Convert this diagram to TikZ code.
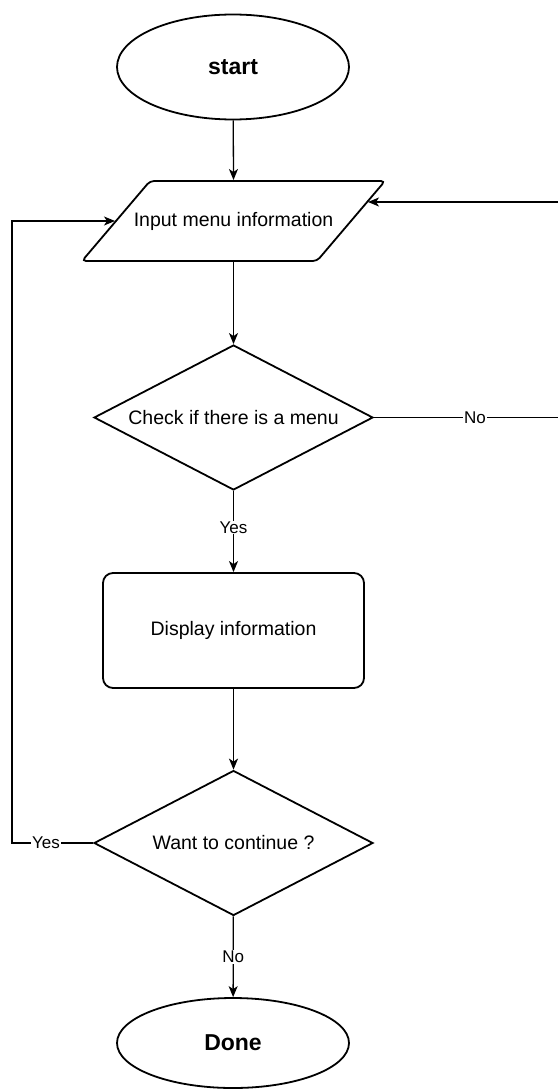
\documentclass[tikz,border=0pt]{standalone}
\usepackage{fontspec}
\setmainfont{Liberation Sans}
\usetikzlibrary{shapes.geometric,arrows.meta}

\begin{document}
\begin{tikzpicture}[x=1pt,y=-1pt,
    terminal/.style={draw,ellipse,line width=1.8pt,inner sep=0pt,minimum width=232pt,minimum height=105pt,font=\fontsize{23}{27}\selectfont\bfseries},
    decision/.style={draw,diamond,shape aspect=1.92,line width=1.8pt,inner sep=0pt,minimum width=279pt,minimum height=145pt,font=\fontsize{19.5}{23}\selectfont},
    process/.style={draw,rectangle,rounded corners=10pt,line width=1.8pt,inner sep=0pt,minimum width=261pt,minimum height=115pt,font=\fontsize{19.5}{23}\selectfont},
    line/.style={line width=1.3pt,-{Stealth[length=11pt,width=9pt,inset=3pt]}},
    lbl/.style={fill=white,inner sep=1pt,font=\fontsize{17}{20}\selectfont}]

\useasboundingbox (0,0) rectangle (557,1091);

\def\inputbox{(150,181) -- (385,181) -- (317,261) -- (82,261) -- cycle}
\draw[line width=1.8pt,rounded corners=4pt] \inputbox;

\node[terminal] (start) at (233,67) {start};
\node[font=\fontsize{19.5}{23}\selectfont] (menu) at (233.5,221) {Input menu information};
\node[decision] (check) at (233.5,417.5) {Check if there is a menu};
\node[process] (show) at (233.5,630.5) {Display information};
\node[decision] (again) at (233.5,843) {Want to continue ?};
\node[terminal,minimum height=90pt] (done) at (233,1043) {Done};

\coordinate (menuT) at (233.5,180);
\coordinate (menuB) at (233.5,262);
\coordinate (menuL) at (115,221);
\coordinate (menuR) at (368,202);
\coordinate (rside) at (561,202);
\coordinate (lside) at (12,221);

\draw[line] (start) -- (menuT);
\draw[line] (menuB) -- (check);
\draw[line] (check) -- node[lbl,pos=0.45] {Yes} (show);
\draw[line] (show) -- (again);
\draw[line] (again) -- node[lbl,pos=0.5] {No} (done);
\draw[line] (check.east) -| node[lbl,pos=0.27] {No} (rside) -- (menuR);
\draw[line] (again.west) -| node[lbl,pos=0.29] {Yes} (lside) -- (menuL);

\end{tikzpicture}
\end{document}
